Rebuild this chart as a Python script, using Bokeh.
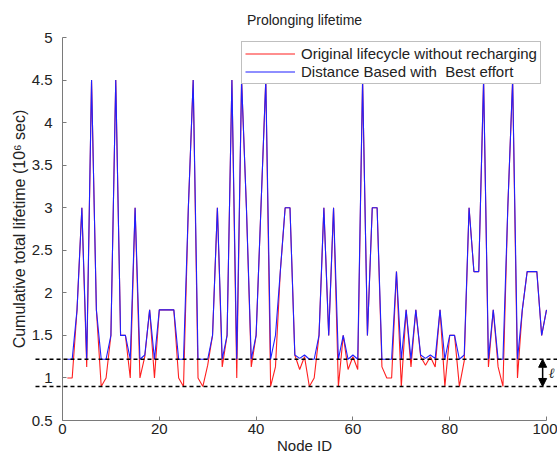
from bokeh.plotting import figure
from bokeh.models import (Arrow, NormalHead, FixedTicker, CustomJSTickFormatter,
                          Legend, LegendItem, ColumnDataSource, Range1d, Label)
from bokeh.embed import file_html
from bokeh.resources import INLINE

# ---------------- data ----------------
node_ids = list(range(1, 101))
original_lifecycle = [
    1.0, 1.0, 1.8, 3.0, 1.13, 4.5, 1.8, 0.9, 1.0, 1.5,
    4.5, 1.5, 1.5, 1.0, 3.0, 1.0, 1.25, 1.8, 1.0, 1.8,
    1.8, 1.8, 1.8, 1.0, 0.9, 3.0, 4.5, 1.0, 0.9, 1.15,
    1.5, 3.0, 1.13, 1.5, 4.5, 1.0, 4.5, 3.0, 1.13, 1.5,
    3.0, 4.5, 0.9, 1.13, 2.25, 3.0, 3.0, 1.27, 1.1, 1.25,
    0.9, 1.0, 1.5, 3.0, 1.5, 3.0, 0.9, 1.5, 1.1, 1.25,
    1.1, 4.5, 1.5, 3.0, 3.0, 1.13, 1.0, 1.0, 2.25, 0.9,
    1.8, 1.13, 1.8, 1.25, 1.15, 1.25, 1.13, 1.8, 0.9, 1.5,
    1.5, 0.9, 1.2, 3.0, 2.25, 2.25, 4.5, 1.13, 1.8, 1.13,
    0.9, 3.0, 4.5, 1.0, 1.8, 2.25, 2.25, 2.25, 1.5, 1.8,
]
distance_based = [
    1.22, 1.22, 1.8, 3.0, 1.22, 4.5, 1.8, 1.22, 1.22, 1.5,
    4.5, 1.5, 1.5, 1.22, 3.0, 1.22, 1.27, 1.8, 1.22, 1.8,
    1.8, 1.8, 1.8, 1.22, 1.22, 3.0, 4.5, 1.22, 1.22, 1.22,
    1.5, 3.0, 1.22, 1.5, 4.5, 1.22, 4.5, 3.0, 1.22, 1.5,
    3.0, 4.5, 1.22, 1.5, 2.25, 3.0, 3.0, 1.27, 1.23, 1.27,
    1.22, 1.22, 1.5, 3.0, 1.5, 3.0, 1.22, 1.5, 1.22, 1.27,
    1.22, 4.5, 1.5, 3.0, 3.0, 1.22, 1.22, 1.22, 2.25, 1.22,
    1.8, 1.22, 1.8, 1.27, 1.23, 1.27, 1.23, 1.8, 1.22, 1.5,
    1.5, 1.22, 1.27, 3.0, 2.25, 2.25, 4.5, 1.22, 1.8, 1.22,
    1.22, 3.0, 4.5, 1.22, 1.8, 2.25, 2.25, 2.25, 1.5, 1.8,
]
series_labels = ["Original lifecycle without recharging",
                 "Distance Based with  Best effort"]
title_text = "Prolonging lifetime"
x_label = "Node ID"
y_label = "Cumulative total lifetime (10\u2076 sec)"
gap_label = "\u2113"
x_ticks = [0, 20, 40, 60, 80, 100]
y_ticks = [0.5, 1, 1.5, 2, 2.5, 3, 3.5, 4, 4.5, 5]
threshold_upper = 1.22
threshold_lower = 0.9
arrow_node = 99.2

# ---------------- layout constants ----------------
X_MIN, X_MAX = 0, 100
Y_MIN, Y_MAX = 0.5, 5
VIEW_X = (-12.81, 102.27)
VIEW_Y = (0.042, 5.435)
DASH_X = (-5.58, 102.27)
TITLE_POS = (50, 5.21)
GAP_LABEL_POS = (100.45, 1.06)

FONT = "Liberation Sans"
TXT = "#222222"
AXC = "#7a7a7a"

p = figure(width=557, height=459, output_backend="svg", toolbar_location=None,
           title=None, x_range=Range1d(*VIEW_X), y_range=Range1d(*VIEW_Y),
           min_border=0)
p.outline_line_color = None
p.xgrid.visible = False
p.ygrid.visible = False

src = ColumnDataSource(dict(node=node_ids, orig=original_lifecycle, dist=distance_based))
r_red = p.line("node", "orig", source=src, line_color="#ff1f1f", line_width=1.1)
r_blue = p.line("node", "dist", source=src, line_color="#1f1fff", line_width=1.1)

p.segment(x0=[DASH_X[0]] * 2, x1=[DASH_X[1]] * 2,
          y0=[threshold_upper, threshold_lower], y1=[threshold_upper, threshold_lower],
          line_color="black", line_dash="4 3", line_width=1.3)

p.add_layout(Arrow(start=NormalHead(size=8, fill_color="black", line_color="black"),
                   end=NormalHead(size=8, fill_color="black", line_color="black"),
                   x_start=arrow_node, y_start=threshold_upper,
                   x_end=arrow_node, y_end=threshold_lower,
                   line_color="black", line_width=1.5))

p.add_layout(Label(x=TITLE_POS[0], y=TITLE_POS[1], text=title_text,
                   text_align="center", text_baseline="middle",
                   text_font=FONT, text_font_size="14px", text_color=TXT))
p.add_layout(Label(x=GAP_LABEL_POS[0], y=GAP_LABEL_POS[1], text=gap_label,
                   text_align="left", text_baseline="middle", text_font_style="italic",
                   text_font="DejaVu Serif", text_font_size="14px", text_color=TXT))

xa = p.xaxis[0]
xa.fixed_location = Y_MIN
xa.bounds = (X_MIN, X_MAX)
xa.ticker = FixedTicker(ticks=x_ticks)
xa.axis_label = x_label
ya = p.yaxis[0]
ya.fixed_location = X_MIN
ya.bounds = (Y_MIN, Y_MAX)
ya.ticker = FixedTicker(ticks=y_ticks)
ya.formatter = CustomJSTickFormatter(code="return tick.toString();")
ya.axis_label = y_label
for ax in (xa, ya):
    ax.axis_line_color = AXC
    ax.major_tick_line_color = AXC
    ax.major_tick_in = 4
    ax.major_tick_out = 0
    ax.minor_tick_line_color = None
    ax.major_label_text_font = FONT
    ax.major_label_text_font_size = "15px"
    ax.major_label_text_color = TXT
    ax.axis_label_text_font = FONT
    ax.axis_label_text_font_size = "15px"
    ax.axis_label_text_font_style = "normal"
    ax.axis_label_text_color = TXT
ya.axis_label_text_font_size = "16px"
xa.major_label_standoff = 3
xa.axis_label_standoff = 0
ya.major_label_standoff = 10
ya.axis_label_standoff = 1

legend = Legend(items=[LegendItem(label=series_labels[0], renderers=[r_red]),
                       LegendItem(label=series_labels[1], renderers=[r_blue])],
                location=(241, 375), border_line_color="#7f7f7f", border_line_width=1,
                padding=3, spacing=1, glyph_width=50, glyph_height=15, label_height=15,
                label_standoff=6, label_text_font=FONT, label_text_font_size="15px",
                label_text_color=TXT, margin=0, background_fill_alpha=1)
p.add_layout(legend)

open("out.html", "w").write(file_html(p, INLINE))
